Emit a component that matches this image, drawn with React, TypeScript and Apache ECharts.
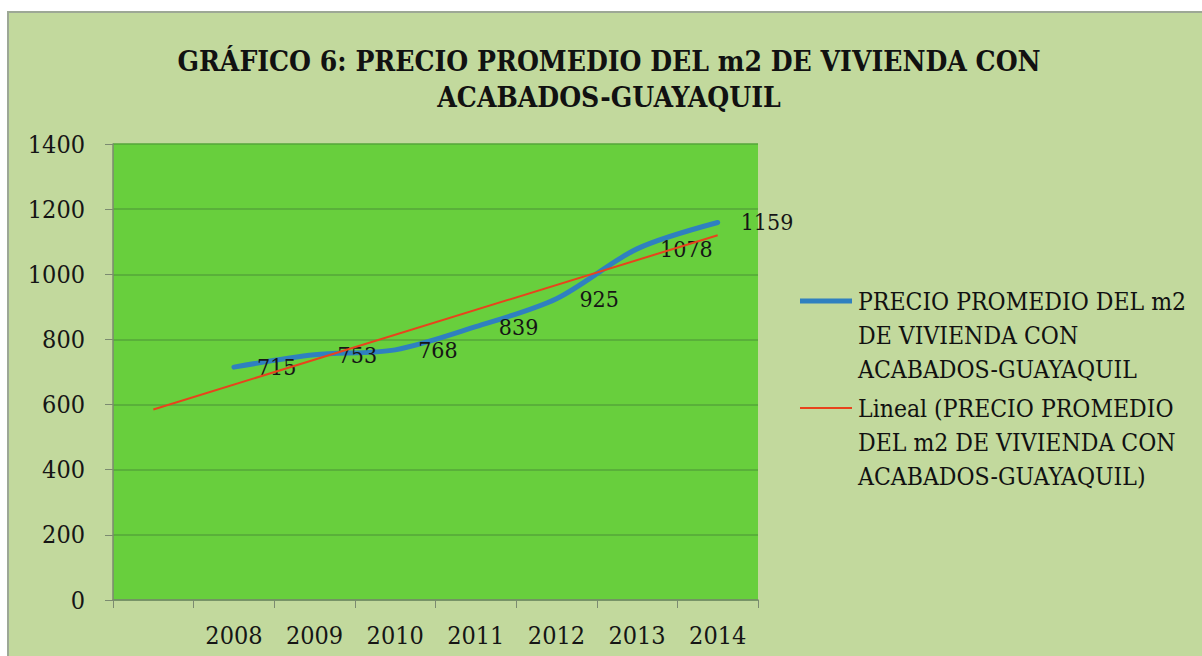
import React, { useEffect, useRef } from "react";
import * as echarts from "echarts";

const categories = ["", "2008", "2009", "2010", "2011", "2012", "2013", "2014"];
const precioValues = [null, 715, 753, 768, 839, 925, 1078, 1159];
const trendValues = [585, null, null, null, null, null, null, 1120];
const titleLines = ["GRÁFICO 6: PRECIO PROMEDIO DEL m2 DE VIVIENDA CON", "ACABADOS-GUAYAQUIL"];
const legendSeries = ["PRECIO PROMEDIO DEL m2", "DE VIVIENDA CON", "ACABADOS-GUAYAQUIL"];
const legendTrend = ["Lineal (PRECIO PROMEDIO", "DEL m2 DE VIVIENDA CON", "ACABADOS-GUAYAQUIL)"];

const FONT = "'DejaVu Serif Condensed', 'DejaVu Serif', serif";

export default function App() {
  const ref = useRef<HTMLDivElement>(null);
  useEffect(() => {
    if (!ref.current) return;
    const chart = echarts.init(ref.current, null, { renderer: "svg" });
    chart.setOption({
      animation: false,
      backgroundColor: "#ffffff",
      textStyle: { fontFamily: FONT },
      graphic: [
        {
          type: "rect",
          z: -10,
          silent: true,
          shape: { x: 8, y: 12, width: 1210, height: 660 },
          style: { fill: "#c2d99d", stroke: "#9da896", lineWidth: 2 },
        },
        {
          type: "rect",
          z: -5,
          silent: true,
          shape: { x: 113, y: 144, width: 645, height: 456 },
          style: { fill: "#68cf3d" },
        },
        {
          type: "text",
          x: 609,
          y: 43,
          style: {
            text: titleLines.join("\n"),
            font: `bold 28px ${FONT}`,
            fill: "#111111",
            align: "center",
            lineHeight: 36,
          },
        },
        {
          type: "line",
          shape: { x1: 800, y1: 301, x2: 852, y2: 301 },
          style: { stroke: "#2f80c0", lineWidth: 5 },
        },
        {
          type: "text",
          x: 858,
          y: 284,
          style: {
            text: legendSeries.join("\n"),
            font: `24.5px ${FONT}`,
            fill: "#111111",
            lineHeight: 34,
          },
        },
        {
          type: "line",
          shape: { x1: 800, y1: 408, x2: 852, y2: 408 },
          style: { stroke: "#e8431c", lineWidth: 2 },
        },
        {
          type: "text",
          x: 858,
          y: 391,
          style: {
            text: legendTrend.join("\n"),
            font: `24.5px ${FONT}`,
            fill: "#111111",
            lineHeight: 34,
          },
        },
      ],
      grid: { left: 113, right: 444, top: 144, bottom: 56, containLabel: false },
      xAxis: {
        type: "category",
        data: categories,
        boundaryGap: true,
        axisLine: { show: true, lineStyle: { color: "#7b8a70", width: 1.5 } },
        axisTick: { show: true, interval: 0, length: 8, lineStyle: { color: "#7b8a70" } },
        axisLabel: { interval: 0, margin: 23, fontSize: 25, color: "#151515", fontFamily: FONT },
      },
      yAxis: {
        type: "value",
        min: 0,
        max: 1400,
        interval: 200,
        axisLine: { show: true, lineStyle: { color: "#7b8a70", width: 1.5 } },
        axisTick: { show: true, length: 8, lineStyle: { color: "#7b8a70" } },
        axisLabel: {
          margin: 28,
          fontSize: 25,
          color: "#151515",
          fontFamily: FONT,
          formatter: (v: number) => String(v),
        },
        splitLine: { show: true, lineStyle: { color: "#55a63a", width: 1.5 } },
      },
      series: [
        {
          name: "PRECIO PROMEDIO DEL m2 DE VIVIENDA CON ACABADOS-GUAYAQUIL",
          type: "line",
          data: precioValues,
          smooth: 0.3,
          symbol: "circle",
          symbolSize: 2,
          showSymbol: true,
          itemStyle: { color: "rgba(0,0,0,0)" },
          lineStyle: { color: "#2f80c0", width: 5, cap: "round" },
          label: {
            show: true,
            position: "right",
            distance: 22,
            fontSize: 23,
            color: "#151515",
            fontFamily: FONT,
          },
          z: 3,
        },
        {
          name: "Lineal (PRECIO PROMEDIO DEL m2 DE VIVIENDA CON ACABADOS-GUAYAQUIL)",
          type: "line",
          data: trendValues,
          connectNulls: true,
          showSymbol: false,
          symbol: "none",
          lineStyle: { color: "#e8431c", width: 2 },
          z: 4,
        },
      ],
    });
    return () => chart.dispose();
  }, []);
  return (
    <div
      ref={ref}
      style={{ position: "fixed", left: 0, top: 0, width: 1202, height: 656 }}
    />
  );
}
